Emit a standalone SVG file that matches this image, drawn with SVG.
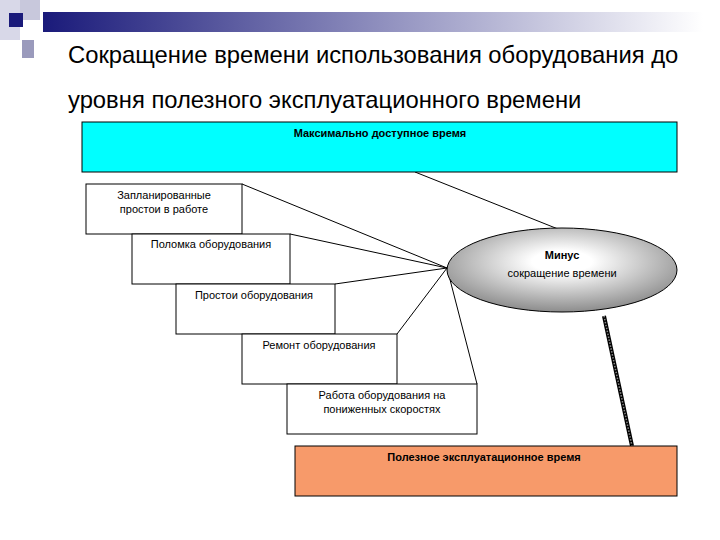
<svg xmlns="http://www.w3.org/2000/svg" width="720" height="540" viewBox="0 0 720 540">
<defs>
<linearGradient id="bar" x1="0" x2="1"><stop offset="0" stop-color="#1a1a7a"/><stop offset="1" stop-color="#ffffff"/></linearGradient>
<radialGradient id="ell" cx="0.5" cy="0.4" r="0.65"><stop offset="0.2" stop-color="#ffffff"/><stop offset="1" stop-color="#808080"/></radialGradient>
<style>
.b{stroke:#000;stroke-width:1;fill:#fff}
.t{font-family:"Liberation Sans",Arial,sans-serif;font-size:11px;text-anchor:middle;fill:#000}
.ln{stroke:#000;stroke-width:1;fill:none}
.h{font-family:"Liberation Sans",Arial,sans-serif;font-size:23.8px;fill:#000}
</style>
</defs>
<rect width="720" height="540" fill="#fff"/>
<rect x="43" y="12" width="660" height="20" fill="url(#bar)"/>
<rect x="0" y="0" width="20" height="40" fill="#d8d8e8"/>
<rect x="20" y="0" width="20" height="20" fill="#c8c8dc"/>
<rect x="9" y="13" width="14" height="14" fill="#1a1a7a"/>
<rect x="22" y="40" width="12" height="18" fill="#9a9abc"/>
<text class="h" x="68" y="63">Сокращение времени использования оборудования до</text>
<text class="h" x="68" y="108">уровня полезного эксплуатационного времени</text>
<g id="connectors">
<line class="ln" x1="415" y1="172" x2="558" y2="229"/>
<line class="ln" x1="242" y1="184" x2="447" y2="268"/>
<line class="ln" x1="290" y1="234" x2="447" y2="268"/>
<line class="ln" x1="335" y1="284" x2="447" y2="268"/>
<line class="ln" x1="397" y1="334" x2="447" y2="268"/>
<line class="ln" x1="477" y1="384" x2="447" y2="268"/>
<line x1="604" y1="316" x2="632" y2="446" stroke="#000" stroke-width="4"/>
<line x1="604" y1="316" x2="632" y2="446" stroke="#888" stroke-width="1.5" stroke-dasharray="1.5 1.5"/>
</g>
<g id="max"><rect x="82" y="122" width="595" height="50" fill="#00ffff" stroke="#000"/><text class="t" x="380" y="137" font-weight="bold" font-size="10">Максимально доступное время</text></g>
<g id="n1"><rect class="b" x="86" y="184" width="156" height="50"/><text class="t" x="164" y="199">Запланированные</text><text class="t" x="164" y="213">простои в работе</text></g>
<g id="n2"><rect class="b" x="132" y="234" width="158" height="50"/><text class="t" x="211" y="248">Поломка оборудования</text></g>
<g id="n3"><rect class="b" x="176" y="284" width="159" height="50"/><text class="t" x="254" y="299">Простои оборудования</text></g>
<g id="n4"><rect class="b" x="242" y="334" width="155" height="50"/><text class="t" x="319" y="349">Ремонт оборудования</text></g>
<g id="n5"><rect class="b" x="287" y="384" width="190" height="50"/><text class="t" x="382" y="399">Работа оборудования на</text><text class="t" x="382" y="413">пониженных скоростях</text></g>
<g id="minus"><ellipse cx="562" cy="270" rx="115" ry="42" fill="url(#ell)" stroke="#000"/><text class="t" x="562" y="259" font-weight="bold" font-size="13">Минус</text><text class="t" x="562" y="277" font-size="13">сокращение времени</text></g>
<g id="useful"><rect x="295" y="446" width="382" height="50" fill="#f79a6a" stroke="#000"/><text class="t" x="484" y="461" font-weight="bold" font-size="10">Полезное эксплуатационное время</text></g>
</svg>
